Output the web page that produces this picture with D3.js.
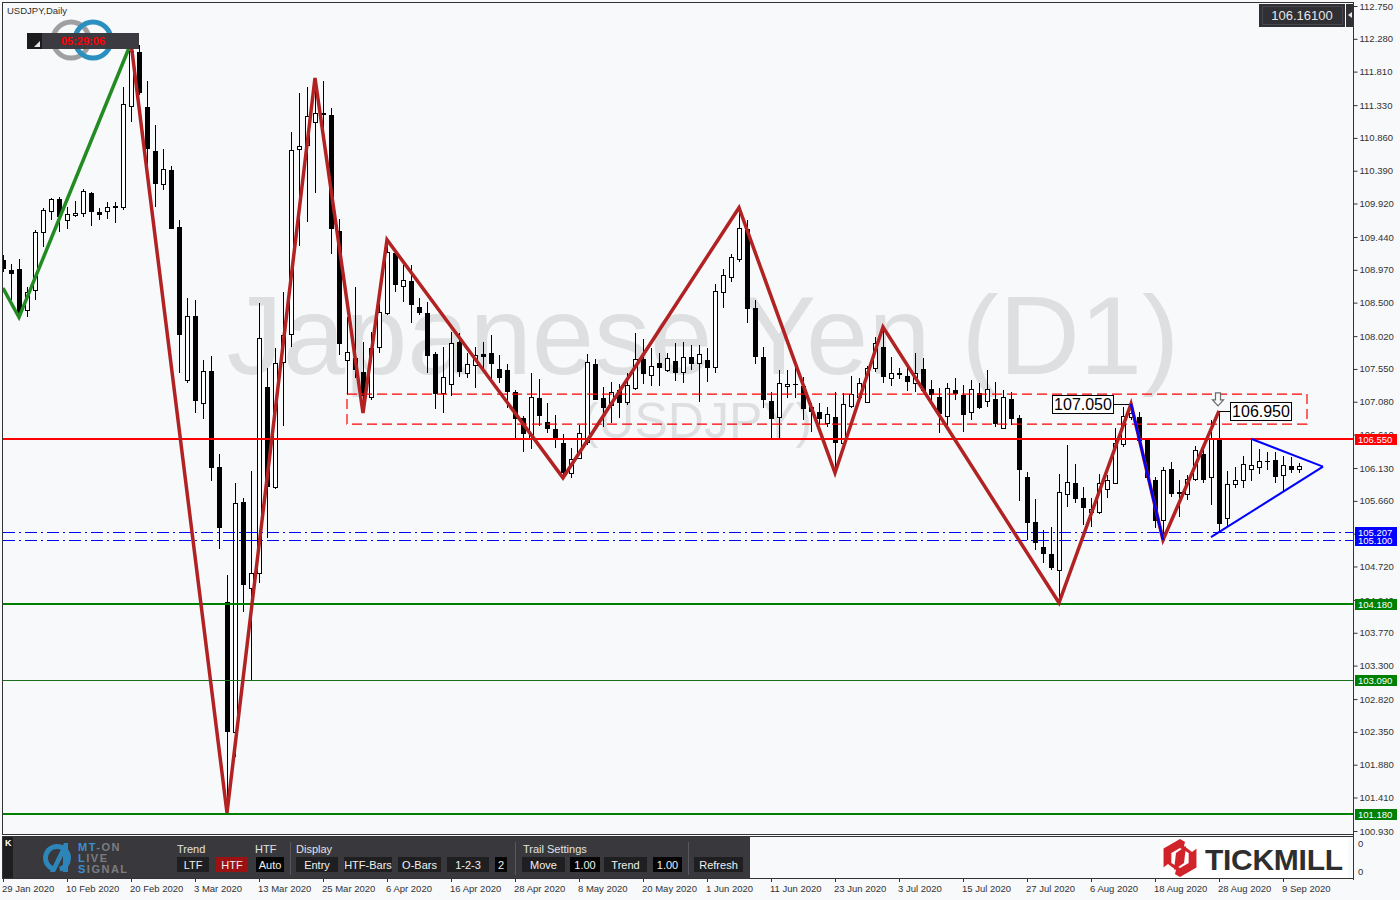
<!DOCTYPE html>
<html><head><meta charset="utf-8">
<script src="https://cdn.jsdelivr.net/npm/d3@7"></script>
<style>
body{margin:0;background:#f7f9fb;}
svg{display:block;font-family:"Liberation Sans",Arial,sans-serif;}
</style>
</head><body>
<svg id="c" width="1400" height="900"></svg>
<script>
// ---------- DATA ----------
const opens=[109.11,108.97,108.98,108.39,108.68,109.51,109.81,109.99,109.68,109.76,109.78,110.07,109.80,109.81,109.87,109.87,111.32,112.09,111.30,110.67,110.20,110.40,109.58,107.39,108.31,107.06,107.52,106.15,104.21,102.35,105.64,104.41,104.63,107.29,105.86,107.65,108.05,110.70,110.76,111.09,111.22,111.19,109.53,107.68,107.71,107.51,107.15,107.86,108.35,109.21,108.74,108.81,108.44,108.35,107.76,107.21,107.33,107.94,107.49,107.61,107.76,107.78,107.55,107.54,107.22,106.85,106.56,107.13,106.79,106.69,106.49,106.06,106.27,106.50,107.62,107.13,107.03,107.25,107.08,107.28,107.69,107.46,107.64,107.54,107.66,107.51,107.72,107.64,107.68,107.58,108.65,108.87,109.13,109.56,108.42,107.72,107.09,106.86,107.31,107.33,107.31,107.00,106.93,106.78,106.86,106.49,107.02,107.15,107.08,107.57,107.86,107.42,107.49,107.45,107.35,107.55,107.26,107.15,106.88,107.25,107.18,106.93,107.21,107.09,107.12,106.70,107.12,106.85,106.00,105.36,105.00,104.90,104.67,105.76,105.92,105.70,105.50,105.50,105.83,105.92,106.47,106.86,106.86,106.53,105.96,105.39,106.12,105.79,105.76,105.97,106.33,106.00,106.53,105.42,105.90,105.96,106.12,106.15,106.23,106.25,106.03,106.16,106.12];
const highs=[109.18,109.05,109.12,108.72,109.54,109.86,110.00,110.01,109.87,109.96,110.13,110.09,109.86,109.94,109.94,111.59,112.22,112.19,111.68,111.05,110.70,110.46,109.68,108.57,108.54,107.68,107.74,106.33,104.60,105.92,105.70,106.09,108.50,107.56,107.85,108.65,110.94,111.50,111.59,111.72,111.68,111.29,109.70,108.29,108.72,107.94,108.08,108.65,109.40,109.27,109.04,109.04,108.57,108.51,107.79,107.86,108.08,108.07,107.78,107.86,107.94,108.04,107.75,107.62,107.25,106.88,107.49,107.41,107.06,106.89,106.62,106.42,106.75,107.76,107.69,107.29,107.36,107.33,107.49,108.07,107.98,107.85,107.78,107.78,107.92,107.94,107.89,107.89,107.85,108.77,108.98,109.20,109.86,109.68,108.54,107.86,107.22,107.54,107.54,107.64,107.43,107.06,107.06,107.00,107.22,107.20,107.45,107.42,107.59,108.01,108.15,107.72,107.56,107.64,107.78,107.71,107.39,107.28,107.35,107.42,107.32,107.39,107.35,107.54,107.36,107.25,107.22,106.89,106.07,105.69,105.24,105.29,106.05,106.46,106.19,105.86,105.70,106.05,106.03,106.70,107.00,107.05,106.94,106.56,106.00,106.15,106.22,105.96,106.03,106.45,106.43,106.82,106.95,106.09,106.15,106.30,106.55,106.40,106.36,106.36,106.30,106.29,106.20];
const lows=[108.94,108.54,108.29,108.29,108.54,109.30,109.68,109.51,109.56,109.73,109.73,109.60,109.68,109.70,109.64,109.83,111.09,111.48,110.33,109.87,110.11,109.56,107.49,107.35,106.92,106.83,105.95,104.97,101.19,101.99,104.07,103.08,104.48,105.13,105.83,106.73,107.86,109.31,109.66,110.07,110.73,109.20,107.75,107.18,107.42,106.92,107.11,107.78,108.32,108.65,108.51,108.21,108.32,107.49,106.98,106.92,107.16,107.44,107.42,107.28,107.54,107.35,107.35,106.99,106.56,106.36,106.40,106.73,106.63,106.42,105.99,105.99,106.26,106.46,107.11,106.72,106.78,106.85,107.03,107.25,107.33,107.31,107.31,107.51,107.38,107.35,107.54,107.08,107.36,107.49,108.42,108.80,109.08,108.21,107.62,106.99,106.56,106.56,107.13,107.13,106.82,106.65,106.75,106.72,106.06,106.49,106.99,107.11,107.06,107.51,107.35,107.31,107.41,107.23,107.22,107.22,107.09,106.63,106.75,107.11,106.65,106.82,106.98,107.00,106.72,106.69,106.75,105.66,105.10,104.96,104.77,104.67,104.20,105.57,105.63,105.31,105.29,105.47,105.70,105.90,106.43,106.82,106.49,105.96,105.27,105.10,105.72,105.43,105.67,105.94,105.92,105.60,105.21,105.29,105.84,105.84,105.94,106.05,106.10,105.92,105.79,106.06,106.06];
const closes=[109.00,108.92,108.35,108.65,109.51,109.83,109.99,109.74,109.77,109.78,110.10,109.81,109.77,109.87,109.88,111.35,112.10,111.52,110.72,110.21,110.41,109.57,108.05,108.31,107.11,107.52,106.15,105.29,102.36,105.63,104.47,104.63,108.00,105.87,107.63,108.04,110.69,110.74,111.17,111.22,111.20,109.57,107.92,107.79,107.55,107.18,107.85,108.37,109.23,108.77,108.82,108.48,108.37,107.75,107.21,107.44,107.92,107.52,107.62,107.75,107.74,107.64,107.44,107.23,106.85,106.63,107.15,106.89,106.70,106.56,106.07,106.26,106.63,107.65,107.12,107.00,107.22,107.08,107.32,107.69,107.49,107.59,107.58,107.71,107.51,107.72,107.64,107.76,107.58,108.67,108.90,109.15,109.57,108.42,107.74,107.12,106.85,107.35,107.33,107.33,106.99,106.95,106.85,106.91,106.50,107.05,107.19,107.35,107.57,107.92,107.45,107.49,107.48,107.38,107.49,107.25,107.19,106.92,107.28,107.21,106.91,107.26,107.00,107.26,106.78,107.15,106.85,106.12,105.36,105.07,104.91,104.71,105.79,105.93,105.70,105.57,105.54,105.92,105.96,106.49,106.88,106.92,106.53,106.00,105.39,106.10,105.77,105.77,105.97,106.39,105.97,106.56,105.34,105.90,105.96,106.19,106.17,106.23,106.23,106.02,106.17,106.12,106.161];

const dateLabels=["29 Jan 2020","10 Feb 2020","20 Feb 2020","3 Mar 2020","13 Mar 2020","25 Mar 2020","6 Apr 2020","16 Apr 2020","28 Apr 2020","8 May 2020","20 May 2020","1 Jun 2020","11 Jun 2020","23 Jun 2020","3 Jul 2020","15 Jul 2020","27 Jul 2020","6 Aug 2020","18 Aug 2020","28 Aug 2020","9 Sep 2020"];
const barsPerLabel=8;
const priceTicks=[112.750,112.280,111.810,111.330,110.860,110.390,109.920,109.440,108.970,108.500,108.020,107.550,107.080,106.610,106.130,105.660,105.190,104.720,104.240,103.770,103.300,102.820,102.350,101.880,101.410,100.930];

// zigzag pivots (bar index, price)
const greenZigIdx=[0,2,16];
const greenZigPx=[108.71,108.29,112.22];
const redZigIdx=[16,28,39,45,48,70,92,104,110,132,141,145,152];
const redZigPx=[112.22,101.19,111.72,106.92,109.40,105.99,109.86,106.06,108.15,104.20,107.05,105.10,106.95];
const blueLegIdx=[141,145];
const blueLegPx=[107.05,105.10];
// triangle
const triLowIdx=[151,165], triLowPx=[105.14,106.15];
const triHighIdx=[156,165], triHighPx=[106.55,106.15];
// dashed zone
const zoneIdx=[43,163], zonePx=[107.19,106.76];
// levels
const resistLevel=106.55;
const blueLevels=[105.100,105.207];
const greenLevels=[104.18,103.09,101.18];
const greenWidths=[2,1,2];
const lastPrice=106.161;
const peakLabels=[{i:141,p:107.05,t:"107.050"},{i:152,p:106.95,t:"106.950"}];

// ---------- SETUP ----------
const svg=d3.select("#c");
const x=d3.scaleLinear().domain([0,162]).range([3,1299]);
const y=d3.scaleLinear().domain([100.93,112.75]).range([831,6]);
const R=1353;

svg.append("rect").attr("width",1400).attr("height",900).attr("fill","#f7f9fb");
svg.append("clipPath").attr("id","clip").append("rect").attr("x",3).attr("y",3).attr("width",R-3).attr("height",831);
const g=svg.append("g").attr("clip-path","url(#clip)");

// watermark
g.append("text").attr("x",703).attr("y",374).attr("text-anchor","middle")
 .attr("font-size",112).attr("fill","#dedfe0").text("Japanese Yen (D1)");
g.append("text").attr("x",697).attr("y",438).attr("text-anchor","middle")
 .attr("font-size",50).attr("fill","#dedfe0").text("(USDJPY)");

// candles
const cg=g.append("g");
opens.forEach((o,i)=>{
  const c=closes[i],h=highs[i],l=lows[i];
  const cx=Math.round(x(i));
  cg.append("line").attr("x1",cx+0.5).attr("x2",cx+0.5).attr("y1",Math.round(y(h))).attr("y2",Math.round(y(l)))
    .attr("stroke","#000").attr("stroke-width",1);
  const top=Math.round(y(Math.max(o,c))), bot=Math.round(y(Math.min(o,c)));
  if(bot-top<1){
    cg.append("line").attr("x1",cx-2).attr("x2",cx+3).attr("y1",top+0.5).attr("y2",top+0.5).attr("stroke","#000");
  } else {
    cg.append("rect").attr("x",cx-1.5).attr("y",top+0.5).attr("width",4).attr("height",bot-top)
      .attr("fill",c>=o?"#fff":"#000").attr("stroke","#000").attr("stroke-width",1);
  }
});

// dashed zone
g.append("rect").attr("x",x(zoneIdx[0])).attr("y",y(zonePx[0])).attr("width",x(zoneIdx[1])-x(zoneIdx[0]))
 .attr("height",y(zonePx[1])-y(zonePx[0])).attr("fill","none").attr("stroke","#ff0000").attr("stroke-width",1.2).attr("stroke-dasharray","10,5");

// horizontal levels
const hline=(p,col,w,dash)=>g.append("line").attr("x1",3).attr("x2",R).attr("y1",Math.round(y(p))+(w%2?0.5:0)).attr("y2",Math.round(y(p))+(w%2?0.5:0))
  .attr("stroke",col).attr("stroke-width",w).attr("stroke-dasharray",dash||null);
hline(resistLevel,"#ff0000",2);
blueLevels.forEach(p=>hline(p,"#0000ff",1,"12,4,2,4"));
greenLevels.forEach((p,k)=>hline(p,k===1?"#1b6e1b":"#008000",greenWidths[k]));

// zigzags
const ln=d3.line().x(d=>x(d[0])).y(d=>y(d[1]));
g.append("path").attr("d",ln(greenZigIdx.map((d,k)=>[d,greenZigPx[k]]))).attr("fill","none").attr("stroke","#228b22").attr("stroke-width",3.5);
g.append("path").attr("d",ln(redZigIdx.map((d,k)=>[d,redZigPx[k]]))).attr("fill","none").attr("stroke","#b22222").attr("stroke-width",3.5).attr("stroke-linejoin","miter");
g.append("path").attr("d",ln(blueLegIdx.map((d,k)=>[d,blueLegPx[k]]))).attr("fill","none").attr("stroke","#0000ff").attr("stroke-width",2.5);
// triangle
g.append("path").attr("d",ln(triLowIdx.map((d,k)=>[d,triLowPx[k]]))).attr("fill","none").attr("stroke","#0000ff").attr("stroke-width",2);
g.append("path").attr("d",ln(triHighIdx.map((d,k)=>[d,triHighPx[k]]))).attr("fill","none").attr("stroke","#0000ff").attr("stroke-width",2);

// peak labels
peakLabels.forEach((d,k)=>{
  const px=x(d.i), py=y(d.p);
  const bw=61,bh=18;
  const bx = k===0 ? px-79 : px+11;
  g.append("line").attr("x1",k===0?bx+bw:px).attr("x2",k===0?px-2:bx).attr("y1",Math.round(py)+0.5).attr("y2",Math.round(py)+0.5).attr("stroke","#000");
  g.append("rect").attr("x",bx+0.5).attr("y",Math.round(py-bh/2)+0.5).attr("width",bw).attr("height",bh).attr("fill","#fff").attr("stroke","#000");
  g.append("text").attr("x",bx+bw/2+0.5).attr("y",Math.round(py-bh/2)+15).attr("text-anchor","middle").attr("font-size",16).attr("fill","#000").text(d.t);
});
// down arrow above 106.950 peak
{
  const ax=x(152)-1, ay=y(106.95)-18;
  g.append("path").attr("d",`M${ax-2.5},${ay} L${ax+2.5},${ay} L${ax+2.5},${ay+7} L${ax+5.5},${ay+7} L${ax},${ay+13} L${ax-5.5},${ay+7} L${ax-2.5},${ay+7} Z`)
   .attr("fill","#fafafa").attr("stroke","#6b6b6b").attr("stroke-width",1.2);
}

// ---------- top-left overlays ----------
svg.append("text").attr("x",7).attr("y",14).attr("font-size",9.5).attr("fill","#303030").text("USDJPY,Daily");
svg.append("circle").attr("cx",71).attr("cy",40).attr("r",18).attr("fill","none").attr("stroke","#a0a0a0").attr("stroke-width",5);
svg.append("circle").attr("cx",93).attr("cy",40).attr("r",18).attr("fill","none").attr("stroke","#2b8fc0").attr("stroke-width",5);
svg.append("rect").attr("x",27).attr("y",33).attr("width",112).attr("height",16).attr("fill","#3c3b41");
svg.append("rect").attr("x",27).attr("y",33).attr("width",15).attr("height",16).attr("fill","#1c1c1e");
svg.append("path").attr("d","M34,47 L40,47 L40,41 Z").attr("fill","#e8e8e8");
svg.append("text").attr("x",83).attr("y",45).attr("text-anchor","middle").attr("font-size",11).attr("font-weight","bold").attr("fill","#ff0000").text("05:29:06");

// top-right price box
svg.append("rect").attr("x",1259).attr("y",4).attr("width",86).attr("height",23).attr("fill","#2f2f34");
svg.append("rect").attr("x",1262.5).attr("y",6.5).attr("width",80).attr("height",18).attr("fill","none").attr("stroke","#46464c");
svg.append("text").attr("x",1302).attr("y",20).attr("text-anchor","middle").attr("font-size",13).attr("fill","#e6e6e6").text(d3.format(".5f")(lastPrice));
svg.append("rect").attr("x",1346).attr("y",4).attr("width",7).attr("height",23).attr("fill","#2f2f34");
svg.append("path").attr("d","M1348,15 L1352,12 L1352,18 Z").attr("fill","#e6e6e6");

// ---------- frames ----------
svg.append("rect").attr("x",2.5).attr("y",2.5).attr("width",R-2).attr("height",832).attr("fill","none").attr("stroke","#333").attr("stroke-width",1);
svg.append("line").attr("x1",R+0.5).attr("x2",R+0.5).attr("y1",2).attr("y2",880).attr("stroke","#333");

// price axis
const ax=svg.append("g").attr("transform",`translate(${R+0.5},0)`)
 .call(d3.axisRight(y).tickValues(priceTicks).tickSize(4).tickSizeOuter(0).tickFormat(d3.format(".3f")));
ax.select(".domain").remove();
ax.selectAll("text").attr("font-size",9.5).attr("fill","#333").attr("font-family","Liberation Sans, Arial, sans-serif").attr("x",6);
ax.selectAll("line").attr("stroke","#333");

// colored level labels
const tag=(p,col)=>{
  const yy=Math.round(y(p));
  svg.append("rect").attr("x",1355).attr("y",yy-5).attr("width",42).attr("height",11).attr("fill",col);
  svg.append("text").attr("x",1358).attr("y",yy+4).attr("font-size",9.5).attr("fill","#fff").text(d3.format(".3f")(p));
};
tag(resistLevel,"#ff0000");
blueLevels.forEach(p=>tag(p,"#0000ff"));
greenLevels.forEach(p=>tag(p,"#008000"));

// ---------- sub panel ----------
svg.append("rect").attr("x",2.5).attr("y",836.5).attr("width",R-2).attr("height",42).attr("fill","#f7f9fb").attr("stroke","#333");
svg.append("text").attr("x",1358).attr("y",847).attr("font-size",9.5).attr("fill","#333").text("0");
svg.append("text").attr("x",1358).attr("y",875).attr("font-size",9.5).attr("fill","#333").text("0");

// control panel
const pn=svg.append("g");
pn.append("rect").attr("x",3).attr("y",837).attr("width",747).attr("height",41).attr("fill","#39383d");
pn.append("rect").attr("x",3).attr("y",837).attr("width",10).attr("height",41).attr("fill","#1e1e20");
pn.append("text").attr("x",5).attr("y",846).attr("font-size",9).attr("font-weight","bold").attr("fill","#fff").text("K");
// MT-ON logo
pn.append("path").attr("d",d3.arc()({innerRadius:9,outerRadius:14,startAngle:-2.7,endAngle:2.9})).attr("transform","translate(57,858)").attr("fill","#2d86b9");
pn.append("path").attr("d","M50,872 L64,843 L68,843 L68,872 L63,872 L63,856 L55,872 Z").attr("fill","#2d86b9");
const lt=(yy,a,b)=>{const t=pn.append("text").attr("x",78).attr("y",yy).attr("font-size",11).attr("font-weight","bold").attr("letter-spacing",1.5);
 t.append("tspan").attr("fill","#3b8fce").text(a); t.append("tspan").attr("fill","#7c7c80").text(b);};
lt(851,"MT","-ON"); lt(862,"L","IVE"); lt(873,"S","IGNAL");
const panelLabels=[["Trend",177],["HTF",255],["Display",296],["Trail Settings",523]];
panelLabels.forEach(d=>pn.append("text").attr("x",d[1]).attr("y",853).attr("font-size",11).attr("fill","#e2e2e2").text(d[0]));
[290,515,688].forEach(xx=>pn.append("line").attr("x1",xx+0.5).attr("x2",xx+0.5).attr("y1",842).attr("y2",875).attr("stroke","#58585e"));
const panelButtons=[["LTF",177,32,"#1f1f21"],["HTF",216,32,"#9c1212"],["Auto",256,28,"#050505"],["Entry",296,42,"#1f1f21"],["HTF-Bars",344,48,"#1f1f21"],["O-Bars",398,43,"#1f1f21"],["1-2-3",447,42,"#1f1f21"],["2",495,12,"#050505"],["Move",522,43,"#1f1f21"],["1.00",570,30,"#050505"],["Trend",604,43,"#1f1f21"],["1.00",653,29,"#050505"],["Refresh",694,49,"#1f1f21"]];
panelButtons.forEach(d=>{
  pn.append("rect").attr("x",d[1]).attr("y",857).attr("width",d[2]).attr("height",15).attr("fill",d[3]);
  pn.append("text").attr("x",d[1]+d[2]/2).attr("y",868.5).attr("text-anchor","middle").attr("font-size",11).attr("fill","#f0f0f0").text(d[0]);
});

// Tickmill logo
const tk=svg.append("g");
tk.append("rect").attr("x",1160).attr("y",838).attr("width",188).attr("height",40).attr("fill","#ffffff");
const hex=(cx,cy,r)=>d3.range(6).map(k=>{const a=Math.PI/3*k-Math.PI/2;return [cx+r*Math.cos(a),cy+r*Math.sin(a)];});
tk.append("path").attr("d","M"+hex(1180,858,19).join("L")+"Z").attr("fill","#d1232a");
tk.append("path").attr("d","M"+hex(1180,858,10).join("L")+"Z").attr("fill","#ffffff");
tk.append("path").attr("d","M1186,838 L1200,846 L1192,852 L1184,846 Z").attr("fill","#ffffff");
tk.append("path").attr("d","M1174,878 L1160,870 L1168,864 L1176,870 Z").attr("fill","#ffffff");
tk.append("path").attr("d","M1176,853 L1186,846 L1184,863 L1174,870 Z").attr("fill","#d1232a");
tk.append("text").attr("x",1205).attr("y",870).attr("font-size",30).attr("font-weight","bold").attr("fill","#2e2e2e").attr("textLength",138).text("TICKMILL");

// date axis
const dg=svg.append("g");
dateLabels.forEach((t,k)=>{
  const xx=Math.round(x(k*barsPerLabel));
  dg.append("line").attr("x1",xx+0.5).attr("x2",xx+0.5).attr("y1",879).attr("y2",882).attr("stroke","#333");
  dg.append("text").attr("x",xx-1).attr("y",892).attr("font-size",9.5).attr("fill","#333").text(t);
});
</script>
</body></html>
